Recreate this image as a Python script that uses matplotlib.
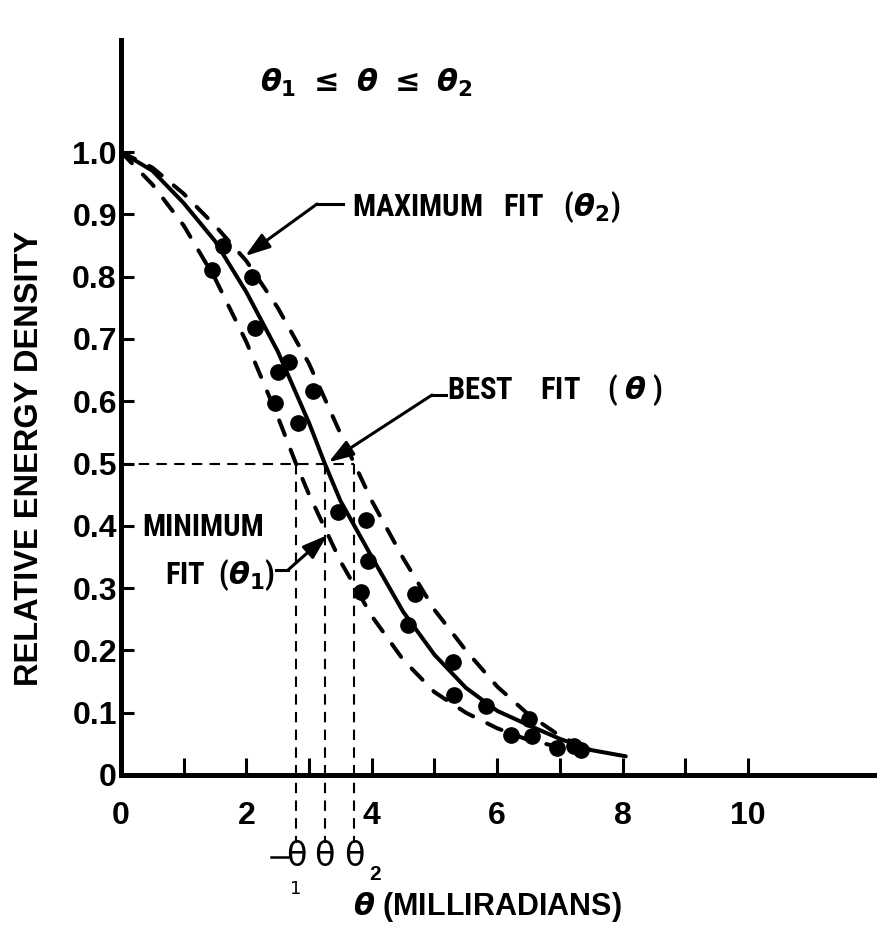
import matplotlib
matplotlib.use("Agg")
import matplotlib.pyplot as plt
from matplotlib import font_manager as fm

# ---------------- data ----------------
# best fit (solid)
best_x = [0.0, 0.5, 1.0, 1.5, 2.0, 2.5, 3.0, 3.25, 3.5, 4.0, 4.5, 5.0, 5.5, 6.0, 6.5, 7.0, 7.5, 8.05]
best_y = [1.0, 0.970, 0.918, 0.857, 0.775, 0.680, 0.565, 0.500, 0.440, 0.350, 0.262, 0.193, 0.140, 0.103, 0.080, 0.058, 0.040, 0.030]
# maximum fit (theta_2), dashed, upper/right
max_x = [0.0, 0.5, 1.0, 1.5, 2.0, 2.5, 3.0, 3.5, 3.72, 4.0, 4.5, 5.0, 5.5, 6.0, 6.5, 7.0, 7.3]
max_y = [1.0, 0.975, 0.933, 0.882, 0.825, 0.750, 0.660, 0.548, 0.500, 0.440, 0.348, 0.265, 0.200, 0.142, 0.097, 0.063, 0.048]
# minimum fit (theta_1), dashed, lower/left
min_x = [0.0, 0.5, 1.0, 1.5, 2.0, 2.5, 2.79, 3.0, 3.5, 4.0, 4.5, 5.0, 5.5, 6.0, 6.5, 6.9]
min_y = [1.0, 0.948, 0.882, 0.797, 0.695, 0.575, 0.500, 0.450, 0.343, 0.255, 0.185, 0.133, 0.100, 0.075, 0.056, 0.047]
# measured points
pts_x = [1.63, 1.45, 2.09, 2.14, 2.68, 2.50, 3.06, 2.46, 2.82, 3.46, 3.91, 3.94, 3.83,
         4.69, 4.58, 5.29, 5.31, 5.82, 6.51, 6.22, 6.56, 6.96, 7.22, 7.33]
pts_y = [0.849, 0.810, 0.800, 0.717, 0.663, 0.647, 0.617, 0.597, 0.565, 0.422, 0.409, 0.343, 0.293,
         0.291, 0.240, 0.182, 0.129, 0.110, 0.090, 0.064, 0.062, 0.044, 0.047, 0.040]
# half-value angles (theta_1, theta, theta_2)
half_theta = [2.79, 3.25, 3.72]
half_level = 0.5

x_major = [0, 2, 4, 6, 8, 10]
x_minor = [1, 3, 5, 7, 9]
x_labels = ["0", "2", "4", "6", "8", "10"]
y_ticks = [0, 0.1, 0.2, 0.3, 0.4, 0.5, 0.6, 0.7, 0.8, 0.9, 1.0]
y_labels = ["0", "0.1", "0.2", "0.3", "0.4", "0.5", "0.6", "0.7", "0.8", "0.9", "1.0"]

# ---------------- fonts ----------------
names = {f.name for f in fm.fontManager.ttflist}
WIDE = "Liberation Sans" if "Liberation Sans" in names else "DejaVu Sans"
NARROW = None
for cand in ["Liberation Sans Narrow", "Roboto Condensed", "Open Sans Condensed"]:
    if cand in names:
        NARROW = cand
        break
ann_size = 22
if NARROW is None:
    NARROW = WIDE
    ann_size = 18

plt.rcParams["font.family"] = [WIDE, "DejaVu Sans"]
plt.rcParams["font.weight"] = "bold"
plt.rcParams["mathtext.fontset"] = "custom"
plt.rcParams["mathtext.rm"] = "DejaVu Sans:bold"
plt.rcParams["mathtext.it"] = "DejaVu Sans:italic:bold"
plt.rcParams["mathtext.bf"] = "DejaVu Sans:bold"

# ---------------- figure ----------------
W, H = 878, 940
fig = plt.figure(figsize=(W / 100, H / 100), dpi=100)
x0, y0, ppx, ppy = 121, 775, 62.7, 623.0
ax = fig.add_axes([x0 / W, (H - y0) / H, (W - x0) / W, (y0 - 40) / H])
ax.set_xlim(0, (W - x0) / ppx)
ax.set_ylim(0, (y0 - 40) / ppy)

for s in ["top", "right"]:
    ax.spines[s].set_visible(False)
for s in ["left", "bottom"]:
    ax.spines[s].set_linewidth(3.6)
    ax.spines[s].set_capstyle("projecting")

ax.set_xticks(x_major)
ax.set_xticklabels(x_labels)
ax.set_xticks(x_minor, minor=True)
ax.set_yticks(y_ticks)
ax.set_yticklabels(y_labels)
ax.tick_params(axis="x", which="both", direction="in", length=12, width=2.2, pad=19, labelsize=23)
ax.tick_params(axis="y", which="major", direction="in", length=9, width=2.2, pad=3, labelsize=23)
for lbl in ax.get_xticklabels() + ax.get_yticklabels():
    lbl.set_fontweight("bold")
    lbl.set_family(WIDE)

# curves
ax.plot(best_x, best_y, color="k", lw=2.9, solid_capstyle="round", solid_joinstyle="round", zorder=3)
ax.plot(max_x, max_y, color="k", lw=2.9, ls=(0, (3.9, 3.9)), dash_capstyle="round", zorder=3)
ax.plot(min_x, min_y, color="k", lw=2.9, ls=(0, (3.9, 3.9)), dash_capstyle="round", zorder=3)
ax.plot(pts_x, pts_y, "o", color="k", ms=11, mec="k", zorder=5)

# half-value construction lines
ax.plot([0, half_theta[2]], [half_level, half_level], color="k", lw=1.5, ls=(0, (5, 3.5)), zorder=2)
y_low = (y0 - 843) / ppy
for t in half_theta:
    ax.plot([t, t], [half_level, y_low], color="k", lw=1.5, ls=(0, (5, 3.5)), clip_on=False, zorder=2)

# theta labels under the axis
y_th = (y0 - 857) / ppy
for t in half_theta:
    ax.text(t, y_th, "θ", ha="center", va="center", fontsize=24, family="DejaVu Sans",
            fontweight="normal", clip_on=False)
ax.plot([half_theta[0] - 0.40, half_theta[0] - 0.12], [y_th, y_th], color="k", lw=1.8, clip_on=False)
ax.text(half_theta[0], (y0 - 889) / ppy, "1", ha="center", va="center", fontsize=13,
        family="DejaVu Sans", fontweight="normal", clip_on=False)
ax.text(half_theta[2] + 0.34, (y0 - 874) / ppy, "2", ha="center", va="center", fontsize=15,
        family=WIDE, fontweight="bold", clip_on=False)

# axis title
ax.text((487 - x0) / ppx, (y0 - 907) / ppy, r"$\theta$ (MILLIRADIANS)", ha="center", va="center",
        fontsize=22, family=WIDE, fontweight="bold", clip_on=False)
fig.text(30 / W, 1 - 458 / H, "RELATIVE ENERGY DENSITY", rotation=90, ha="center", va="center",
         fontsize=23.5, family=WIDE, fontweight="bold")

# top relation
ax.text((366 - x0) / ppx, (y0 - 83) / ppy, r"$\theta_{1}\ \leq\ \theta\ \leq\ \theta_{2}$",
        ha="center", va="center", fontsize=22, clip_on=False)

def px(xp, yp):
    return ((xp - x0) / ppx, (y0 - yp) / ppy)

arrow_kw = dict(arrowstyle="-|>,head_length=0.75,head_width=0.25", lw=2.2, color="k",
                shrinkA=0, shrinkB=0, mutation_scale=20)

# maximum fit
ax.plot(*zip(px(317, 204), px(343, 204)), color="k", lw=2.2)
ax.annotate("", xy=(1.98, 0.833), xytext=px(317, 204), arrowprops=arrow_kw)
ax.text(*px(352, 207), r"MAXIMUM   FIT   ($\theta_{2}$)", ha="left", va="center",
        fontsize=ann_size, family=NARROW, fontweight="bold")

# best fit
ax.plot(*zip(px(432, 395), px(446, 395)), color="k", lw=2.2)
ax.annotate("", xy=(3.31, 0.502), xytext=px(432, 395), arrowprops=arrow_kw)
ax.text(*px(447, 390), r"BEST    FIT    ( $\theta$ )", ha="left", va="center",
        fontsize=ann_size, family=NARROW, fontweight="bold")

# minimum fit
ax.plot(*zip(px(276, 570), px(288, 570)), color="k", lw=2.2)
ax.annotate("", xy=(3.29, 0.385), xytext=px(288, 570), arrowprops=arrow_kw)
ax.text(*px(203, 527), "MINIMUM", ha="center", va="center",
        fontsize=ann_size, family=NARROW, fontweight="bold")
ax.text(*px(275, 575), r"FIT  ($\theta_{1}$)", ha="right", va="center",
        fontsize=ann_size, family=NARROW, fontweight="bold")

fig.savefig("out.png", dpi=100, facecolor="white")
